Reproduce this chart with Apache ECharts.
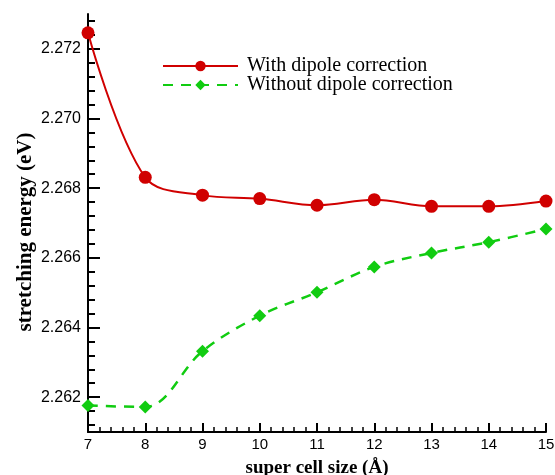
<!DOCTYPE html>
<html>
<head>
<meta charset="utf-8">
<script src="https://cdn.jsdelivr.net/npm/echarts@6/dist/echarts.min.js"></script>
<style>
  html, body { margin: 0; padding: 0; background: #fff; }
  #chart { width: 555px; height: 475px; }
</style>
</head>
<body>
<div id="chart"></div>
<script>
// super cell size (Å)
const cellSize = [7, 8, 9, 10, 11, 12, 13, 14, 15]
// stretching energy (eV)
const withDipole = [2.27246, 2.26831, 2.26780, 2.26770, 2.26751, 2.26767, 2.26748, 2.26748, 2.26763]
const withoutDipole = [2.26176, 2.26172, 2.26332, 2.26434, 2.26501, 2.26574, 2.26614, 2.26645, 2.26683]
// labelled ticks on the energy axis
const yMajorTicks = [2.262, 2.264, 2.266, 2.268, 2.270, 2.272]

const yMin = 2.261
const yMax = 2.273

// minor ticks every 0.0004 eV, aligned on the major ones
const yMinorTicks = []
for (let i = -2; i <= 27; i++) {
  const v = +(2.262 + i * 0.0004).toFixed(4)
  if (v > yMin && v < yMax && !yMajorTicks.includes(v)) yMinorTicks.push(v)
}

const serif = '"Liberation Serif", "Times New Roman", serif'
const sans = '"Liberation Sans", Arial, sans-serif'

const chart = echarts.init(document.getElementById('chart'))

const axisLine = { show: true, onZero: false, lineStyle: { color: '#000', width: 2 } }

// extra left axes that only draw ticks
const tickAxis = (values, len) => ({
  type: 'value',
  min: yMin,
  max: yMax,
  position: 'left',
  offset: 0,
  axisLine: { show: false },
  axisTick: {
    show: true, inside: true, length: len, customValues: values,
    lineStyle: { color: '#000', width: 2 }
  },
  axisLabel: { show: false },
  splitLine: { show: false }
})

chart.setOption({
  animation: false,
  grid: { left: 88, right: 9, top: 14, bottom: 43, outerBoundsMode: 'none' },
  legend: {
    orient: 'vertical',
    left: 157,
    top: 51,
    itemWidth: 75,
    itemHeight: 13,
    itemGap: -1,
    textStyle: { fontFamily: serif, fontSize: 20, color: '#000', padding: [0, 0, 0, 4] },
    data: ['With dipole correction', 'Without dipole correction']
  },
  xAxis: {
    type: 'value',
    min: 7,
    max: 15,
    interval: 1,
    name: 'super cell size (Å)',
    nameLocation: 'middle',
    nameGap: 27,
    nameTextStyle: { fontFamily: serif, fontSize: 19, fontWeight: 'bold', color: '#000' },
    axisLine,
    axisTick: { show: true, inside: true, length: 9, lineStyle: { color: '#000', width: 2 } },
    minorTick: { show: true, splitNumber: 5, length: 5, lineStyle: { color: '#000', width: 1.5 } },
    axisLabel: { fontFamily: sans, fontSize: 15, color: '#000', margin: 5 },
    splitLine: { show: false }
  },
  yAxis: [
    {
      type: 'value',
      min: yMin,
      max: yMax,
      name: 'stretching energy (eV)',
      nameLocation: 'middle',
      nameGap: 52,
      nameMoveOverlap: false,
      nameTextStyle: {
        fontFamily: serif, fontSize: 21, fontWeight: 'bold', color: '#000',
        padding: [0, 18, 0, 0]
      },
      axisLine,
      axisTick: { show: false },
      axisLabel: {
        fontFamily: sans, fontSize: 16, color: '#000', margin: 7,
        customValues: yMajorTicks,
        formatter: v => v.toFixed(3)
      },
      splitLine: { show: false }
    },
    tickAxis(yMajorTicks, 12),
    tickAxis(yMinorTicks, 7)
  ],
  series: [
    {
      name: 'With dipole correction',
      type: 'line',
      smooth: 0.35,
      symbol: 'circle',
      symbolSize: 13,
      itemStyle: { color: '#d00000' },
      lineStyle: { color: '#d00000', width: 2 },
      data: cellSize.map((x, i) => [x, withDipole[i]]),
      z: 3
    },
    {
      name: 'Without dipole correction',
      type: 'line',
      smooth: 0.35,
      symbol: 'diamond',
      symbolSize: 13,
      itemStyle: { color: '#11cc11' },
      lineStyle: { color: '#11cc11', width: 2.5, type: [10, 8] },
      data: cellSize.map((x, i) => [x, withoutDipole[i]]),
      z: 2
    }
  ]
})
</script>
</body>
</html>
